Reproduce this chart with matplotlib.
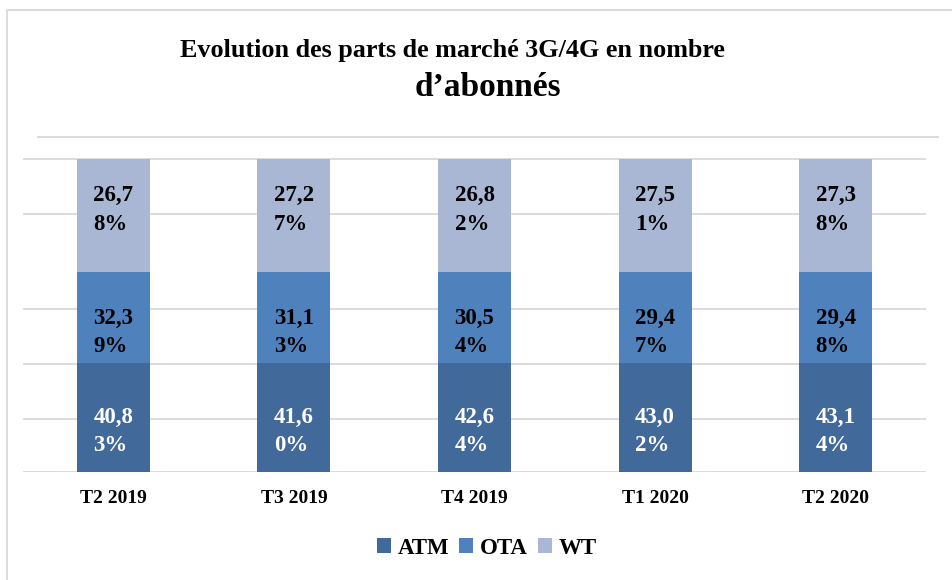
import matplotlib
matplotlib.use('Agg')
import matplotlib.pyplot as plt
from matplotlib.lines import Line2D
from matplotlib.patches import Patch

# ---- data ----
categories = ['T2 2019', 'T3 2019', 'T4 2019', 'T1 2020', 'T2 2020']
series = ['ATM', 'OTA', 'WT']
# labelled market shares (%)
atm_values = [40.83, 41.60, 42.64, 43.02, 43.14]
ota_values = [32.39, 31.13, 30.54, 29.47, 29.48]
wt_values = [26.78, 27.27, 26.82, 27.51, 27.38]
# segment heights as drawn in the picture (share of bar height)
atm_heights = [34.8, 34.8, 34.8, 34.8, 34.8]
ota_heights = [29.2, 29.2, 29.2, 29.2, 29.2]
wt_heights = [36.0, 36.0, 36.0, 36.0, 36.0]

colors = {'ATM': '#41699A', 'OTA': '#4F81BD', 'WT': '#A9B7D5'}
label_colors = {'ATM': 'white', 'OTA': 'black', 'WT': 'black'}
label_offsets = {'ATM': -10, 'OTA': -10.5, 'WT': 4}  # points
grid_levels = [0, 16.95, 34.55, 52.1, 82.5, 100]

FONT = 'Liberation Serif'
W, H = 953, 580

def fmt(v):
    s = f"{v:.2f}".replace('.', ',') + '%'
    return s[:4] + '\n' + s[4:]

fig = plt.figure(figsize=(W / 100, H / 100), dpi=100)
fig.patch.set_facecolor('white')

ax_left, ax_right = 23, 926
ax_bottom_px = 472
px_per_unit = 3.127
ytop = 110
ax = fig.add_axes([ax_left / W, 1 - ax_bottom_px / H,
                   (ax_right - ax_left) / W, ytop * px_per_unit / H])

x = list(range(len(categories)))
width = 0.404
bottoms = [0.0] * len(categories)
vals = {'ATM': atm_values, 'OTA': ota_values, 'WT': wt_values}
heights = {'ATM': atm_heights, 'OTA': ota_heights, 'WT': wt_heights}
for s in series:
    bars = ax.bar(x, heights[s], width, bottom=bottoms, color=colors[s],
                  zorder=2, label=s, linewidth=0)
    for i, b in enumerate(bars):
        cy = bottoms[i] + heights[s][i] / 2
        ax.annotate(fmt(vals[s][i]), (x[i], cy), xytext=(0, label_offsets[s]),
                    textcoords='offset points', ha='center', va='center',
                    multialignment='left', fontsize=16.5, fontweight='bold',
                    family=FONT, color=label_colors[s], linespacing=1.45,
                    zorder=3)
    bottoms = [bottoms[i] + heights[s][i] for i in range(len(categories))]

ax.set_xlim(-0.5, len(categories) - 0.5)
ax.set_ylim(0, ytop)
ax.set_yticks(grid_levels)
ax.set_yticklabels([])
ax.yaxis.grid(True, color='#D9D9D9', linewidth=1.3, zorder=0)
ax.set_axisbelow(True)
ax.tick_params(axis='both', length=0)
ax.tick_params(axis='x', pad=13)
ax.set_xticks(x)
ax.set_xticklabels(categories, fontsize=14, fontweight='bold', family=FONT)
for sp in ax.spines.values():
    sp.set_visible(False)

# top decorative line
fig.add_artist(Line2D([38 / W, 938 / W], [1 - 137 / H, 1 - 137 / H],
                      color='#D9D9D9', linewidth=1.3, transform=fig.transFigure))
# chart frame (top & left)
fig.add_artist(Line2D([7.5 / W, 7.5 / W, 1.0], [0, 1 - 10 / H, 1 - 10 / H],
                      color='#D9D9D9', linewidth=1.3, transform=fig.transFigure))

# title
fig.text(452 / W, 1 - 50 / H, 'Evolution des parts de marché 3G/4G en nombre',
         ha='center', va='center', fontsize=18.8, fontweight='bold', family=FONT)
fig.text(488 / W, 1 - 87 / H, 'd\u2019abonnés', ha='center', va='center',
         fontsize=24, fontweight='bold', family=FONT)

handles = [Patch(facecolor=colors[s], edgecolor='none') for s in series]
fig.legend(handles, series, loc='center', bbox_to_anchor=(487 / W, 1 - 548 / H),
           ncol=3, frameon=False, prop={'family': FONT, 'weight': 'bold', 'size': 16.5},
           handlelength=0.6, handleheight=0.6, handletextpad=0.3,
           columnspacing=0.45, borderaxespad=0)

fig.savefig('out.png', dpi=100)
